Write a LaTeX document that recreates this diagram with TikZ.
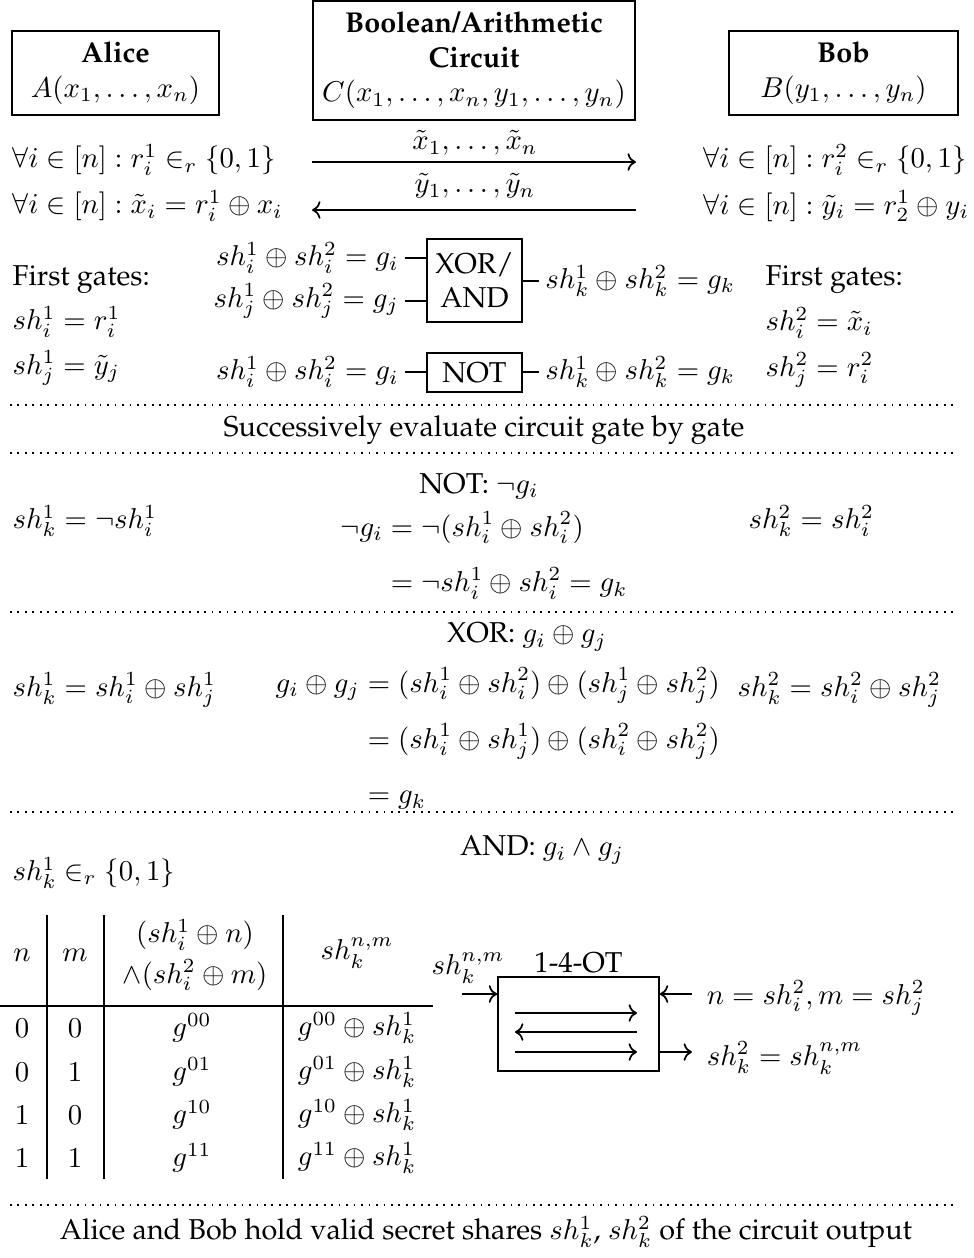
\documentclass[tikz,border=0pt]{standalone}
\usepackage{amsmath,amssymb}
\usepackage[T1]{fontenc}
\usepackage{palatino}
\usetikzlibrary{arrows.meta,positioning}

\begin{document}
\begin{tikzpicture}[
    x=0.348pt, y=-0.348pt,
    font=\normalsize,
    party/.style={rectangle, draw, semithick, align=center, inner sep=2pt},
    gatebox/.style={rectangle, draw, semithick, align=center, inner sep=2pt, minimum width=33.1pt},
    txt/.style={anchor=west, inner sep=0pt},
    ctr/.style={inner sep=0pt, align=center},
    wirelbl/.style={inner sep=2pt},
    arrow/.style={-To, semithick},
    wire/.style={semithick},
    sepline/.style={dotted, semithick}
]
    \useasboundingbox (0,0) rectangle (973,1258);

    % Parties and circuit
    \node[party, minimum width=72.1pt, minimum height=29.2pt] (alice) at (115.5,73) {\textbf{Alice}\\$A(x_1,\dots,x_n)$};
    \node[party, minimum width=112.1pt, minimum height=41.4pt] (circ) at (474,60.5) {\textbf{Boolean/Arithmetic}\\\textbf{Circuit}\\$C(x_1,\dots,x_n,y_1,\dots,y_n)$};
    \node[party, minimum width=79.7pt, minimum height=29.2pt] (bob) at (843.5,73) {\textbf{Bob}\\$B(y_1,\dots,y_n)$};

    % Masked inputs
    \node[ctr] (xs) at (475,143) {$\tilde{x}_1,\dots,\tilde{x}_n$};
    \node[ctr] (ys) at (475,186) {$\tilde{y}_1,\dots,\tilde{y}_n$};
    \coordinate (xsarr) at (475,162);
    \coordinate (ysarr) at (475,210);
    \draw[arrow] (xsarr -| circ.west) -- (xsarr -| circ.east);
    \draw[arrow] (ysarr -| circ.east) -- (ysarr -| circ.west);

    \node[txt] (arand) at (12,160) {$\forall i\in[n]: r_i^1 \in_r \{0,1\}$};
    \node[txt] (amask) at (12,206) {$\forall i\in[n]: \tilde{x}_i = r_i^1 \oplus x_i$};
    \node[txt] (brand) at (703,160) {$\forall i\in[n]: r_i^2 \in_r \{0,1\}$};
    \node[txt] (bmask) at (703,206) {$\forall i\in[n]: \tilde{y}_i = r_2^1 \oplus y_i$};

    % First gates
    \node[txt] (afirst) at (12,280) {First gates:};
    \node[txt] (afirsti) at (12,322) {$sh_i^1 = r_i^1$};
    \node[txt] (afirstj) at (12,368) {$sh_j^1 = \tilde{y}_j$};
    \node[txt] (bfirst) at (765,280) {First gates:};
    \node[txt] (bfirsti) at (765,323) {$sh_i^2 = \tilde{x}_i$};
    \node[txt] (bfirstj) at (765,370) {$sh_j^2 = r_i^2$};

    \node[gatebox, minimum height=28.9pt] (xorand) at (474.5,280.5) {XOR/\\AND};
    \node[gatebox, minimum height=13.6pt] (notg) at (474.5,372.5) {NOT};
    \node[wirelbl, anchor=east] (xin1) at (405,258) {$sh_i^1\oplus sh_i^2 = g_i$};
    \node[wirelbl, anchor=east] (xin2) at (405,301) {$sh_j^1\oplus sh_j^2 = g_j$};
    \node[wirelbl, anchor=west] (xout) at (539,281) {$sh_k^1\oplus sh_k^2 = g_k$};
    \node[wirelbl, anchor=east] (nin) at (405,372) {$sh_i^1\oplus sh_i^2 = g_i$};
    \node[wirelbl, anchor=west] (nout) at (539,372) {$sh_k^1\oplus sh_k^2 = g_k$};
    \draw[wire] (xin1.east) -- (xin1.east -| xorand.west);
    \draw[wire] (xin2.east) -- (xin2.east -| xorand.west);
    \draw[wire] (xout.west -| xorand.east) -- (xout.west);
    \draw[wire] (nin.east) -- (nin.east -| notg.west);
    \draw[wire] (nout.west -| notg.east) -- (nout.west);

    % Separators
    \foreach \sy/\sname in {405/sa, 453/sb, 612/sc, 812/sd, 1205/se}
        \draw[sepline] (10,\sy) coordinate (\sname) -- (953,\sy);
    \node[ctr] (succ) at (484,430) {Successively evaluate circuit gate by gate};

    % NOT
    \node[ctr] (nothd) at (479,486) {NOT: $\neg g_i$};
    \node[txt] (notl) at (12,521) {$sh_k^1 = \neg sh_i^1$};
    \node[txt] (notm) at (340,557) {$\begin{aligned}
        \neg g_i &= \neg(sh_i^1 \oplus sh_i^2)\\[3pt]
        &= \neg sh_i^1 \oplus sh_i^2 = g_k
    \end{aligned}$};
    \node[txt] (notr) at (748,521) {$sh_k^2 = sh_i^2$};

    % XOR
    \node[ctr] (xorhd) at (527,637) {XOR: $g_i \oplus g_j$};
    \node[txt] (xorl) at (12,690) {$sh_k^1 = sh_i^1 \oplus sh_j^1$};
    \node[txt] (xorm) at (275,741) {$\begin{aligned}
        g_i \oplus g_j &= (sh_i^1 \oplus sh_i^2) \oplus (sh_j^1 \oplus sh_j^2)\\[3pt]
        &= (sh_i^1 \oplus sh_j^1) \oplus (sh_i^2 \oplus sh_j^2)\\[3pt]
        &= g_k
    \end{aligned}$};
    \node[txt] (xorr) at (737,690) {$sh_k^2 = sh_i^2 \oplus sh_j^2$};

    % AND
    \node[ctr] (andhd) at (542,850) {AND: $g_i \wedge g_j$};
    \node[txt] (andl) at (12,873) {$sh_k^1 \in_r \{0,1\}$};

    % Table
    \draw[wire] (0,1006) -- (433,1006);
    \foreach \vx in {47,104,283}
        \draw[wire] (\vx,915) -- (\vx,1179);
    \node[ctr] (thn) at (22,955) {$n$};
    \node[ctr] (thm) at (75,955) {$m$};
    \node[ctr] (thg) at (195,955) {$(sh_i^1 \oplus n)$\\[2pt]$\wedge(sh_i^2 \oplus m)$};
    \node[ctr] (ths) at (357,953) {$sh_k^{n,m}$};
    \foreach \n/\m/\ry in {0/0/1028, 0/1/1072, 1/0/1115, 1/1/1158} {
        \node[ctr] at (22,\ry) {$\n$};
        \node[ctr] at (75,\ry) {$\m$};
        \node[ctr] at (192,\ry) {$g^{\n\m}$};
        \node[ctr] at (357,\ry) {$g^{\n\m} \oplus sh_k^1$};
    }

    % 1-4-OT
    \node[rectangle, draw, semithick, minimum width=56pt, minimum height=32.7pt] (ot) at (578.5,1024) {};
    \node[inner sep=1pt, above=0pt of ot] (otlbl) {1-4-OT};
    \node[ctr] (otsnd) at (468,968) {$sh_k^{n,m}$};
    \coordinate (otin) at (462,994);
    \draw[arrow] (otin) -- (otin -| ot.west);
    \node[anchor=west, inner sep=5pt] (otsel) at (692,998) {$n = sh_i^2, m = sh_j^2$};
    \node[anchor=west, inner sep=5pt] (otout) at (692,1058) {$sh_k^2 = sh_k^{n,m}$};
    \draw[arrow] (otsel.west |- otin) -- (otin -| ot.east);
    \draw[arrow] (ot.east |- 0,1052) -- (otout.west |- 0,1052);
    \draw[arrow] (515,1013) -- (637,1013);
    \draw[arrow] (637,1032) -- (515,1032);
    \draw[arrow] (515,1052) -- (637,1052);

    % Result
    \node[ctr] (result) at (486,1232) {Alice and Bob hold valid secret shares $sh_k^1$, $sh_k^2$ of the circuit output};
\end{tikzpicture}
\end{document}
